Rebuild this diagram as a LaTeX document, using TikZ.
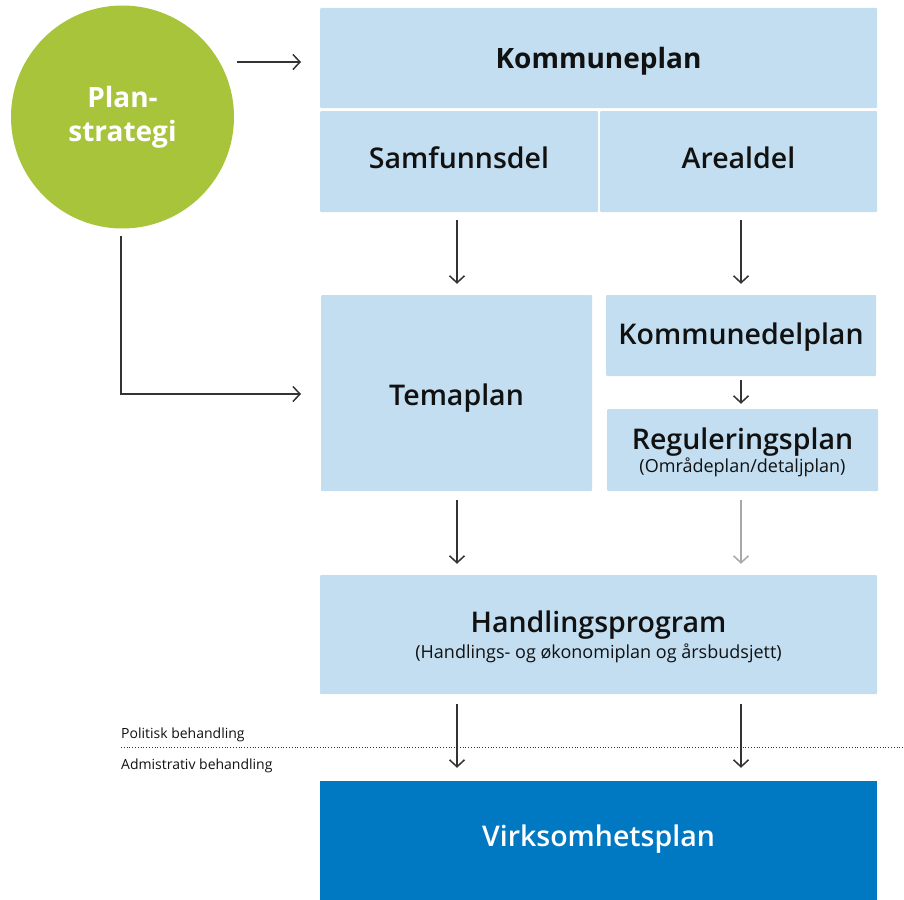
\documentclass[tikz,border=0pt]{standalone}
\usepackage{fontspec}
\setmainfont{Open Sans}[BoldFont={Open Sans Semibold}]
\newfontfamily\osbold{Open Sans}
\usetikzlibrary{arrows.meta,calc}
\definecolor{lblue}{HTML}{C2DEF0}
\definecolor{dblue}{HTML}{0079C2}
\definecolor{lgreen}{HTML}{A8C43A}
\definecolor{arrdark}{HTML}{333333}
\definecolor{arrgray}{HTML}{A8A8A8}
\definecolor{txt}{HTML}{111111}
\tikzset{
  box/.style={fill=lblue, draw=none, rounded corners=1pt, inner sep=0pt, align=center, text=txt},
  title/.style={font=\fontsize{28.5}{32}\selectfont\bfseries},
  btitle/.style={font=\osbold\fontsize{28}{32}\selectfont\bfseries},
  arr/.style={draw=arrdark, line width=1.5pt, -{Straight Barb[length=7pt,width=15pt,line width=1.5pt]}},
  garr/.style={arr, draw=arrgray},
  small/.style={font=\fontsize{14}{16}\selectfont, text=txt, anchor=west, inner sep=0pt}
}
\newcommand{\ttl}[1]{{\fontsize{28.5}{32}\selectfont\bfseries #1}}
\newcommand{\sbt}[1]{{\fontsize{18}{20}\selectfont #1}}
\begin{document}
\begin{tikzpicture}[x=1pt,y=-1pt]
\useasboundingbox (0,0) rectangle (904,899);
% circle
\node[circle, fill=lgreen, minimum size=223pt, inner sep=0pt, align=center, text=white,
  font=\osbold\fontsize{28}{34}\selectfont\bfseries] (ps) at (122.5,117) {Plan-\\strategi};
% boxes
\node[box, minimum width=557pt, minimum height=100pt, btitle, text height=28pt, text depth=7pt] (kp) at (598.5,58) {Kommuneplan};
\node[box, minimum width=278pt, minimum height=101pt, title, text height=22pt, text depth=8.3pt] (sd) at (459,161.5) {Samfunnsdel};
\node[box, minimum width=277pt, minimum height=101pt, title, text height=22pt, text depth=8.3pt] (ad) at (738.5,161.5) {Arealdel};
\node[box, minimum width=271pt, minimum height=196pt, title, text height=31.7pt, text depth=6.8pt] (tp) at (456.5,393) {Temaplan};
\node[box, minimum width=270pt, minimum height=81pt, title, text height=25.7pt, text depth=6.8pt] (kdp) at (741,335.5) {Kommunedelplan};
\node[box, minimum width=271pt, minimum height=82pt] (rp) at (742.5,450) {\rule{0pt}{26pt}\ttl{Reguleringsplan}\\[1pt]\sbt{(Områdeplan/detaljplan)}};
\node[box, minimum width=557pt, minimum height=119pt] (hp) at (598.5,634.5) {\rule{0pt}{26pt}\ttl{Handlingsprogram}\\[3pt]\sbt{(Handlings- og økonomiplan og årsbudsjett)}};
\node[box, fill=dblue, rounded corners=0pt, minimum width=557pt, minimum height=120pt, title, text=white, text height=21.7pt, text depth=10.8pt] (vp) at (598.5,841) {Virksomhetsplan};
% column coordinates
\coordinate (c1) at (457,0);
\coordinate (c2) at (741,0);
% arrows
\coordinate (s1) at (237,62);
\coordinate (e1) at (301,62);
\draw[arr] (s1) -- (e1);
\coordinate (lstart) at (121,236);
\coordinate (lcorner) at (121,394);
\coordinate (lend) at (301,394);
\draw[arr] (lstart) -- (lcorner) -- (lend);
\draw[arr, shorten <=8pt, shorten >=11pt] (sd.south -| c1) -- (tp.north -| c1);
\draw[arr, shorten <=8pt, shorten >=11pt] (ad.south -| c2) -- (kdp.north -| c2);
\draw[arr, shorten <=4pt, shorten >=5pt] (kdp.south -| c2) -- (rp.north -| c2);
\draw[arr, shorten <=9pt, shorten >=11pt] (tp.south -| c1) -- (hp.north -| c1);
\draw[garr, shorten <=9pt, shorten >=11pt] (rp.south -| c2) -- (hp.north -| c2);
\draw[arr, shorten <=10pt, shorten >=13pt] (hp.south -| c1) -- (vp.north -| c1);
\draw[arr, shorten <=10pt, shorten >=13pt] (hp.south -| c2) -- (vp.north -| c2);
% dotted line and labels
\coordinate (dl) at (121,747.5);
\coordinate (dr) at (904,747.5);
\draw[dotted, line width=0.8pt, draw=arrdark] (dl) -- (dr);
\node[small] (pol) at (121,735) {Politisk behandling};
\node[small] (adm) at (121,766) {Admistrativ behandling};
\end{tikzpicture}
\end{document}
